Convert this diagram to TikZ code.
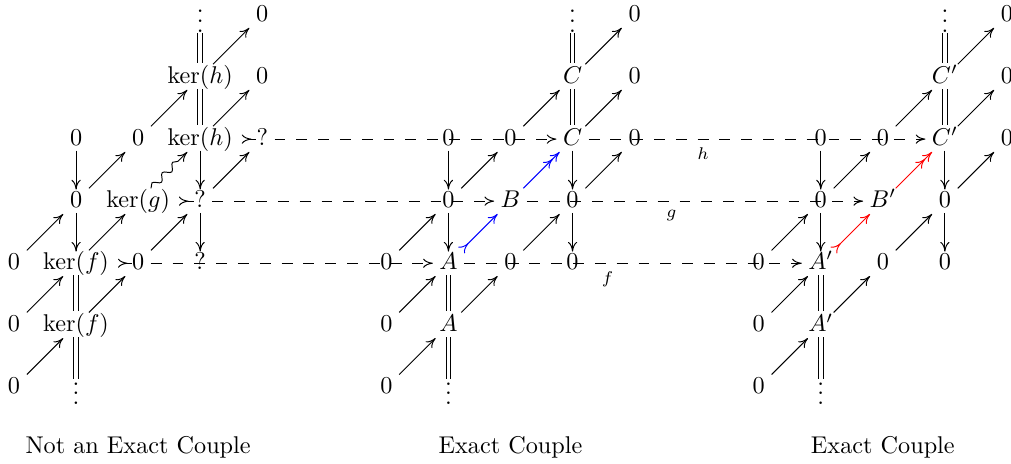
\documentclass[tikz,border=0pt]{standalone}
\usepackage{amsmath, amssymb}
\usepackage{tikz}
\usetikzlibrary{arrows.meta, calc, decorations.pathmorphing}
\newcommand{\vdt}{\vbox{\baselineskip4pt\lineskiplimit0pt\hbox{.}\hbox{.}\hbox{.}}}

\begin{document}
\begin{tikzpicture}[x=0.9cm, y=0.9cm, >={Computer Modern Rightarrow[length=4pt, width=3.8pt]},
            cell/.style={text height=1.5ex, text depth=.25ex, inner sep=2.5pt},
            dts/.style={inner sep=0pt, yshift=-2.6pt},
            dg/.style={->, shorten <=7.5pt, shorten >=7.5pt},
            dn/.style={->, shorten <=4.8pt, shorten >=4.8pt},
            dbl/.style={double, double distance=1.5pt, shorten <=5pt, shorten >=6pt},
            mono/.style={>-, shorten <=1pt, shorten >=2.5pt},
            dsh/.style={->, dash pattern=on 4.5pt off 4.5pt},
            lbl/.style={below, pos=#1, font=\scriptsize}]
            \useasboundingbox (-0.2256,0.2417) rectangle (16.065,-7.219);
            \node[dts] (L03) at (3,0) {\vdt};
            \node[cell] (L04) at (4,0) {$0$};
            \node[cell] (L13) at (3,-1) {$\ker(h)$};
            \node[cell] (L14) at (4,-1) {$0$};
            \node[cell] (L21) at (1,-2) {$0$};
            \node[cell] (L22) at (2,-2) {$0$};
            \node[cell] (L23) at (3,-2) {$\ker(h)$};
            \node[cell] (L24) at (4,-2) {$?$};
            \node[cell] (L31) at (1,-3) {$0$};
            \node[cell] (L32) at (2,-3) {$\ker(g)$};
            \node[cell] (L33) at (3,-3) {$?$};
            \node[cell] (L40) at (0,-4) {$0$};
            \node[cell] (L41) at (1,-4) {$\ker(f)$};
            \node[cell] (L42) at (2,-4) {$0$};
            \node[cell] (L43) at (3,-4) {$?$};
            \node[cell] (L50) at (0,-5) {$0$};
            \node[cell] (L51) at (1,-5) {$\ker(f)$};
            \node[cell] (L60) at (0,-6) {$0$};
            \node[dts] (L61) at (1,-6) {\vdt};
            \draw[dbl] (L03.center) -- (L13.center);
            \draw[dbl] (L13.center) -- (L23.center);
            \draw[dg] (L13.center) -- (L04.center);
            \draw[dg] (L23.center) -- (L14.center);
            \draw[dg] (L22.center) -- (L13.center);
            \draw[dn] (L21.center) -- (L31.center);
            \draw[dg] (L31.center) -- (L22.center);
            \draw[->, decorate, decoration={snake, amplitude=1.3pt, segment length=6pt, post length=4pt}] ($(L32.center)!7.5pt!(L23.center)$) -- ($(L23.center)!7.5pt!(L32.center)$);
            \draw[mono] (L23.east) -- (L24.center);
            \draw[dn] (L23.center) -- (L33.center);
            \draw[dg] (L33.center) -- (L24.center);
            \draw[mono] (L32.east) -- (L33.center);
            \draw[dn] (L31.center) -- (L41.center);
            \draw[dg] (L40.center) -- (L31.center);
            \draw[dg] (L41.center) -- (L32.center);
            \draw[dg] (L42.center) -- (L33.center);
            \draw[dn] (L33.center) -- (L43.center);
            \draw[mono] (L41.east) -- (L42.center);
            \draw[dbl] (L41.center) -- (L51.center);
            \draw[dg] (L50.center) -- (L41.center);
            \draw[dg] (L51.center) -- (L42.center);
            \draw[dg] (L60.center) -- (L51.center);
            \draw[dbl] (L51.center) -- (L61.center);
            \node[dts] (M03) at (9,0) {\vdt};
            \node[cell] (M04) at (10,0) {$0$};
            \node[cell] (M13) at (9,-1) {$C$};
            \node[cell] (M14) at (10,-1) {$0$};
            \node[cell] (M21) at (7,-2) {$0$};
            \node[cell] (M22) at (8,-2) {$0$};
            \node[cell] (M23) at (9,-2) {$C$};
            \node[cell] (M24) at (10,-2) {$0$};
            \node[cell] (M31) at (7,-3) {$0$};
            \node[cell] (M32) at (8,-3) {$B$};
            \node[cell] (M33) at (9,-3) {$0$};
            \node[cell] (M40) at (6,-4) {$0$};
            \node[cell] (M41) at (7,-4) {$A$};
            \node[cell] (M42) at (8,-4) {$0$};
            \node[cell] (M43) at (9,-4) {$0$};
            \node[cell] (M50) at (6,-5) {$0$};
            \node[cell] (M51) at (7,-5) {$A$};
            \node[cell] (M60) at (6,-6) {$0$};
            \node[dts] (M61) at (7,-6) {\vdt};
            \draw[dbl] (M03.center) -- (M13.center);
            \draw[dbl] (M13.center) -- (M23.center);
            \draw[dg] (M13.center) -- (M04.center);
            \draw[dg] (M23.center) -- (M14.center);
            \draw[dg] (M22.center) -- (M13.center);
            \draw[dn] (M21.center) -- (M31.center);
            \draw[dg] (M31.center) -- (M22.center);
            \draw[dg, ->>, blue] (M32.center) -- (M23.center);
            \draw[dn] (M23.center) -- (M33.center);
            \draw[dg] (M33.center) -- (M24.center);
            \draw[dn] (M31.center) -- (M41.center);
            \draw[dg] (M40.center) -- (M31.center);
            \draw[dg, >->, blue] (M41.center) -- (M32.center);
            \draw[dg] (M42.center) -- (M33.center);
            \draw[dn] (M33.center) -- (M43.center);
            \draw[dbl] (M41.center) -- (M51.center);
            \draw[dg] (M50.center) -- (M41.center);
            \draw[dg] (M51.center) -- (M42.center);
            \draw[dg] (M60.center) -- (M51.center);
            \draw[dbl] (M51.center) -- (M61.center);
            \node[dts] (R03) at (15,0) {\vdt};
            \node[cell] (R04) at (16,0) {$0$};
            \node[cell] (R13) at (15,-1) {$C'$};
            \node[cell] (R14) at (16,-1) {$0$};
            \node[cell] (R21) at (13,-2) {$0$};
            \node[cell] (R22) at (14,-2) {$0$};
            \node[cell] (R23) at (15,-2) {$C'$};
            \node[cell] (R24) at (16,-2) {$0$};
            \node[cell] (R31) at (13,-3) {$0$};
            \node[cell] (R32) at (14,-3) {$B'$};
            \node[cell] (R33) at (15,-3) {$0$};
            \node[cell] (R40) at (12,-4) {$0$};
            \node[cell] (R41) at (13,-4) {$A'$};
            \node[cell] (R42) at (14,-4) {$0$};
            \node[cell] (R43) at (15,-4) {$0$};
            \node[cell] (R50) at (12,-5) {$0$};
            \node[cell] (R51) at (13,-5) {$A'$};
            \node[cell] (R60) at (12,-6) {$0$};
            \node[dts] (R61) at (13,-6) {\vdt};
            \draw[dbl] (R03.center) -- (R13.center);
            \draw[dbl] (R13.center) -- (R23.center);
            \draw[dg] (R13.center) -- (R04.center);
            \draw[dg] (R23.center) -- (R14.center);
            \draw[dg] (R22.center) -- (R13.center);
            \draw[dn] (R21.center) -- (R31.center);
            \draw[dg] (R31.center) -- (R22.center);
            \draw[dg, ->>, red] (R32.center) -- (R23.center);
            \draw[dn] (R23.center) -- (R33.center);
            \draw[dg] (R33.center) -- (R24.center);
            \draw[dn] (R31.center) -- (R41.center);
            \draw[dg] (R40.center) -- (R31.center);
            \draw[dg, >->, red] (R41.center) -- (R32.center);
            \draw[dg] (R42.center) -- (R33.center);
            \draw[dn] (R33.center) -- (R43.center);
            \draw[dbl] (R41.center) -- (R51.center);
            \draw[dg] (R50.center) -- (R41.center);
            \draw[dg] (R51.center) -- (R42.center);
            \draw[dg] (R60.center) -- (R51.center);
            \draw[dbl] (R51.center) -- (R61.center);
            \draw[dsh] (L24.east) -- (M23.west);
            \draw[dsh] (L33.east) -- (M32.west);
            \draw[dsh] (L42.east) -- (M41.west);
            \draw[dsh] (M23.east) -- node[lbl=0.34] {$h$} (R23.west);
            \draw[dsh] (M32.east) -- node[lbl=0.43] {$g$} (R32.west);
            \draw[dsh] (M41.east) -- node[lbl=0.425] {$f$} (R41.west);
            \node (nl) at (2,-6.961) {Not an Exact Couple};
            \node (ml) at (8,-6.961) {Exact Couple};
            \node (rl) at (14,-6.961) {Exact Couple};
\end{tikzpicture}
\end{document}
